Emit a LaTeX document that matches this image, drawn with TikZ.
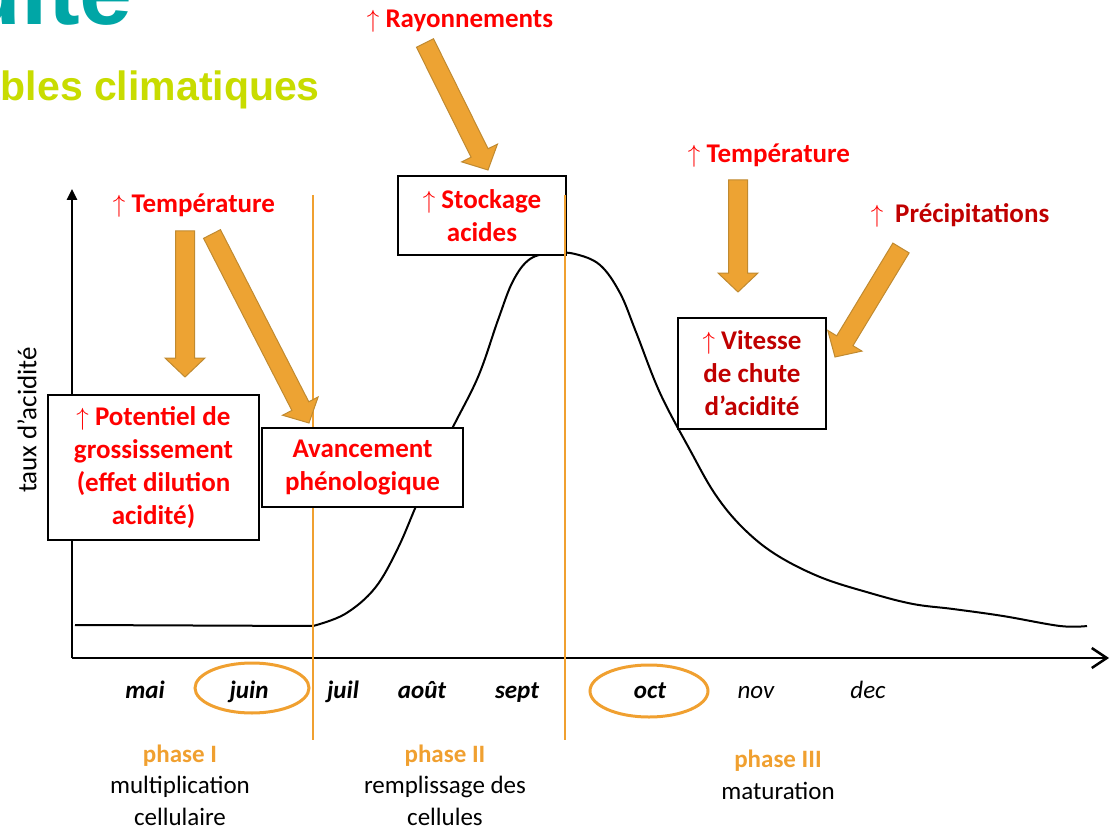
\documentclass[tikz,border=0pt]{standalone}
\usepackage{fontspec}
\setmainfont{Carlito}
\newfontfamily\titlefont{Liberation Sans}
\usetikzlibrary{arrows.meta,calc}

\definecolor{rouge}{HTML}{FF0000}
\definecolor{bordeaux}{HTML}{C00000}
\definecolor{orangeph}{HTML}{F0A030}
\definecolor{flecheor}{HTML}{EDA333}
\definecolor{flechebord}{HTML}{C08A30}
\definecolor{sarcelle}{HTML}{00A6A6}
\definecolor{anis}{HTML}{C8DC00}

\tikzset{
  etiq/.style={font=\fontsize{27}{33}\selectfont\bfseries, text=rouge, inner sep=0pt, anchor=base},
  cadre/.style={draw, line width=1.6pt, fill=white, align=center, inner sep=0pt,
    font=\fontsize{27}{33}\selectfont\bfseries, text=rouge},
  mois/.style={font=\fontsize{25}{30}\selectfont\itshape, anchor=base, inner sep=0pt},
  phase/.style={font=\fontsize{25}{31.5}\selectfont, align=center, inner sep=0pt},
  grosse/.style={fill=flecheor, draw=flechebord, line width=1pt},
  limite/.style={draw=orangeph, line width=2.5pt},
}

% block arrow from #1 to #2
\newcommand{\grossefleche}[2]{%
  \filldraw[grosse] ($(#1)!9.5pt!90:(#2)$)
    -- ($(#2)!19pt!(#1)!9.5pt!-90:(#1)$) -- ($(#2)!19pt!(#1)!20pt!-90:(#1)$)
    -- (#2)
    -- ($(#2)!19pt!(#1)!20pt!90:(#1)$) -- ($(#2)!19pt!(#1)!9.5pt!90:(#1)$)
    -- ($(#1)!9.5pt!-90:(#2)$) -- cycle;}

\begin{document}
\begin{tikzpicture}[x=1pt,y=-1pt]
  \useasboundingbox (0,0) rectangle (1111,829);
  \clip (0,0) rectangle (1111,829);

  % titles
  \node [anchor=base east, inner sep=0pt, text=sarcelle,
    font=\titlefont\fontsize{95}{100}\selectfont\bfseries] (titre) at (133,25) {acidité};
  \node [anchor=base east, inner sep=0pt, text=anis,
    font=\titlefont\fontsize{41}{48}\selectfont\bfseries] (soustitre) at (320,101) {Variables climatiques};

  % axes
  \coordinate (O) at (72,658);
  \coordinate (ytop) at (72,189);
  \coordinate (xfin) at (1109,658);
  \draw [line width=2.5pt, -{Triangle[width=10pt,length=11pt]}] (O) -- (ytop);
  \draw [line width=2.5pt, -{Straight Barb[width=20pt,length=15pt,line width=2.5pt]}] (O) -- (xfin);
  \node [rotate=90, font=\fontsize{27}{30}\selectfont] (ylab) at (27,420) {taux d’acidité};

  % acidity curve
  \draw [line width=2pt] (75,625) -- (313,626) -- plot [smooth, tension=0.6] coordinates {
    (313,626) (345,614) (375,588) (398,548) (420,497) (450,433) (478,377)
    (498,320) (513,281) (530,259) (553,253) (575,254) (600,265) (620,293)
    (636,332) (660,393) (690,450) (715,494) (742,527) (775,554) (820,577)
    (870,593) (913,604) (953,609) (1003,616) (1060,626) (1087,626)};

  \node [cadre, minimum width=168pt, minimum height=79pt] (stockage) at (482,215.5)
    {$\uparrow$ Stockage\\acides};

  % phase limits
  \coordinate (l1h) at (313,195);
  \coordinate (l1b) at (313,740);
  \coordinate (l2h) at (565,195);
  \coordinate (l2b) at (565,740);
  \draw [limite] (l1h) -- (l1b);
  \draw [limite] (l2h) -- (l2b);

  \node [cadre, minimum width=211pt, minimum height=145pt] (potentiel) at (153.5,467.5)
    {$\uparrow$ Potentiel de\\grossissement\\(effet dilution\\acidité)};
  \node [cadre, minimum width=201pt, minimum height=79pt] (avancement) at (362.5,467.5)
    {Avancement\\phénologique};
  \node [cadre, minimum width=148pt, minimum height=111pt, text=bordeaux] (vitesse) at (752,373.5)
    {\textcolor{rouge}{$\uparrow$} Vitesse\\de chute\\d’acidité};

  % climatic factors
  \node [etiq] (temp1) at (194,213) {$\uparrow$ Température};
  \node [etiq] (rayon) at (460,28) {$\uparrow$ Rayonnements};
  \node [etiq] (temp2) at (769,163) {$\uparrow$ Température};
  \node [etiq, text=bordeaux] (precip) at (960,223) {\textcolor{rouge}{$\uparrow$}\hspace{12pt}Précipitations};

  \coordinate (a1s) at (185,231);
  \coordinate (a1e) at (185,377);
  \coordinate (a2s) at (212,234);
  \coordinate (a2e) at (309,423);
  \coordinate (a3s) at (425,43);
  \coordinate (a3e) at (488,170);
  \coordinate (a4s) at (738,180);
  \coordinate (a4e) at (738,292);
  \coordinate (a5s) at (901,248);
  \coordinate (a5e) at (835,357);
  \grossefleche{a1s}{a1e}
  \grossefleche{a2s}{a2e}
  \grossefleche{a3s}{a3e}
  \grossefleche{a4s}{a4e}
  \grossefleche{a5s}{a5e}

  % months
  \node [mois, font=\fontsize{25}{30}\selectfont\bfseries\itshape] (mai) at (145,698) {mai};
  \node [mois, font=\fontsize{25}{30}\selectfont\bfseries\itshape] (juin) at (249,698) {juin};
  \node [mois, font=\fontsize{25}{30}\selectfont\bfseries\itshape] (juil) at (343,698) {juil};
  \node [mois, font=\fontsize{25}{30}\selectfont\bfseries\itshape] (aout) at (422,698) {août};
  \node [mois, font=\fontsize{25}{30}\selectfont\bfseries\itshape] (sept) at (517,698) {sept};
  \node [mois, font=\fontsize{25}{30}\selectfont\bfseries\itshape] (oct) at (650,698) {oct};
  \node [mois] (nov) at (756,698) {nov};
  \node [mois] (dec) at (868,698) {dec};
  \draw [orangeph, line width=3pt] (252,688) ellipse [x radius=57, y radius=25];
  \draw [orangeph, line width=3pt] (649,691) ellipse [x radius=59, y radius=26];

  % phases
  \node [phase] (ph1) at (180,785) {\textcolor{orangeph}{\bfseries phase I}\\multiplication\\cellulaire};
  \node [phase] (ph2) at (445,785) {\textcolor{orangeph}{\bfseries phase II}\\remplissage des\\cellules};
  \node [phase] (ph3) at (778,775) {\textcolor{orangeph}{\bfseries phase III}\\maturation};
\end{tikzpicture}
\end{document}
